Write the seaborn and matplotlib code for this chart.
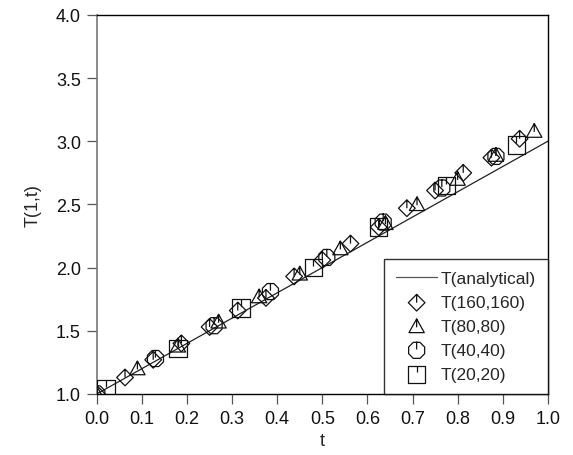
import numpy as np
import pandas as pd
import matplotlib
matplotlib.use("Agg")
import matplotlib.pyplot as plt
from matplotlib.path import Path
import seaborn as sns

# Analytical solution endpoints
t_exact = [0.0, 1.0]
T_exact = [1.0, 3.0]

# Numerical solutions for different grid resolutions
t_160 = [0.0, 0.0625, 0.125, 0.1875, 0.25, 0.3125, 0.375, 0.4375, 0.5, 0.5625,
         0.625, 0.6875, 0.75, 0.8125, 0.875, 0.9375]
T_160 = [1.00, 1.13, 1.27, 1.40, 1.53, 1.66, 1.76, 1.93, 2.06, 2.19,
         2.32, 2.47, 2.61, 2.75, 2.87, 3.02]

t_80 = [0.0, 0.09, 0.18, 0.27, 0.36, 0.45, 0.54, 0.64, 0.71, 0.80, 0.885, 0.97]
T_80 = [1.00, 1.20, 1.38, 1.57, 1.77, 1.95, 2.15, 2.35, 2.50, 2.70, 2.89, 3.08]

t_40 = [0.0, 0.13, 0.26, 0.385, 0.51, 0.635, 0.765, 0.885]
T_40 = [1.00, 1.28, 1.54, 1.81, 2.08, 2.36, 2.63, 2.88]

t_20 = [0.02, 0.18, 0.32, 0.48, 0.625, 0.775, 0.93]
T_20 = [1.04, 1.36, 1.68, 2.00, 2.32, 2.65, 2.97]

labels = ["T(160,160)", "T(80,80)", "T(40,40)", "T(20,20)"]
x_ticks = [0.0, 0.1, 0.2, 0.3, 0.4, 0.5, 0.6, 0.7, 0.8, 0.9, 1.0]
y_ticks = [1.0, 1.5, 2.0, 2.5, 3.0, 3.5, 4.0]

sns.set_theme(style="ticks")
plt.rcParams["font.family"] = ["Liberation Sans", "DejaVu Sans"]


def ticked(outline, tick_end):
    """Closed outline plus a short vertical stroke hanging from the top vertex."""
    verts = list(outline) + [outline[0], (0.0, 0.5), (0.0, tick_end)]
    codes = ([Path.MOVETO] + [Path.LINETO] * (len(outline) - 1) + [Path.CLOSEPOLY]
             + [Path.MOVETO, Path.LINETO])
    return Path(verts, codes)


diamond = ticked([(0, 0.5), (0.5, 0), (0, -0.5), (-0.5, 0)], 0.0)
triangle = ticked([(0, 0.5), (0.5, -0.4), (-0.5, -0.4)], -0.05)
ang = np.deg2rad(90 + 22.5 + 45 * np.arange(8))
octagon_pts = [(0.5 * np.cos(a), 0.5 * np.sin(a)) for a in ang]
octagon = Path(octagon_pts + [octagon_pts[0], (0, 0.5), (0, 0.05)],
               [Path.MOVETO] + [Path.LINETO] * 7 + [Path.CLOSEPOLY, Path.MOVETO, Path.LINETO])
square = ticked([(-0.5, 0.5), (0.5, 0.5), (0.5, -0.5), (-0.5, -0.5)], 0.1)

fig = plt.figure(figsize=(5.73, 4.56), dpi=100)
ax = fig.add_axes([0.169, 0.134, 0.787, 0.831])

sns.lineplot(x=t_exact, y=T_exact, ax=ax, color="#222222", linewidth=0.9,
             label="T(analytical)")

series = [(t_160, T_160, diamond, 12.0),
          (t_80, T_80, triangle, 11.0),
          (t_40, T_40, octagon, 12.5),
          (t_20, T_20, square, 12.5)]
for (tx, ty, mk, ms), lab in zip(series, labels):
    sns.scatterplot(x=tx, y=ty, ax=ax, marker=mk, s=ms ** 2,
                    facecolor="none", edgecolor="#111111", linewidth=0.9,
                    label=lab, zorder=3)

ax.set_xlim(0.0, 1.0)
ax.set_ylim(1.0, 4.0)
ax.set_xticks(x_ticks)
ax.set_yticks(y_ticks)
ax.set_xticklabels([f"{v:.1f}" for v in x_ticks])
ax.set_yticklabels([f"{v:.1f}" for v in y_ticks])
ax.tick_params(direction="out", length=7.5, width=0.9, color="#555555",
               labelsize=13, labelcolor="#111111")
ax.tick_params(axis="y", pad=4)
ax.tick_params(axis="x", pad=4)
ax.set_xlabel("t", fontsize=13, labelpad=4)
ax.set_ylabel("T(1,t)", fontsize=13, labelpad=10)

for side in ["top", "right", "bottom"]:
    ax.spines[side].set_visible(True)
    ax.spines[side].set_color("black")
    ax.spines[side].set_linewidth(1.0)
ax.spines["left"].set_color("#777777")
ax.spines["left"].set_linewidth(1.2)

leg = ax.legend(loc="lower right", borderaxespad=0, fancybox=False,
                frameon=True, edgecolor="black", fontsize=12.5,
                handlelength=2.35, labelspacing=0.5, borderpad=0.7,
                handletextpad=0.2)
leg.get_frame().set_linewidth(1.0)
leg.get_lines()[0].set_color("#555555")

fig.savefig("out.png", dpi=100)
